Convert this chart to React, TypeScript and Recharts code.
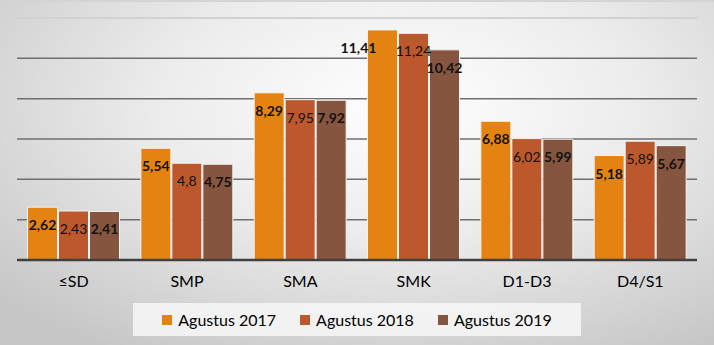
import React from "react";
import { BarChart, Bar, XAxis, YAxis, CartesianGrid, Legend, LabelList } from "recharts";

const categories = ["≤SD", "SMP", "SMA", "SMK", "D1-D3", "D4/S1"];
const agustus2017 = [2.62, 5.54, 8.29, 11.41, 6.88, 5.18];
const agustus2018 = [2.43, 4.8, 7.95, 11.24, 6.02, 5.89];
const agustus2019 = [2.41, 4.75, 7.92, 10.42, 5.99, 5.67];
const yTicks = [0, 2, 4, 6, 8, 10, 12];

const series = [
  { key: "a2017", name: "Agustus 2017", color: "#e48312", bold: true, shiftWide: true },
  { key: "a2018", name: "Agustus 2018", color: "#bc582c", bold: false, shiftWide: false },
  { key: "a2019", name: "Agustus 2019", color: "#86553f", bold: true, shiftWide: false },
];

const data = categories.map((c, i) => ({
  cat: c,
  a2017: agustus2017[i],
  a2018: agustus2018[i],
  a2019: agustus2019[i],
}));

const font = "Lato, 'Open Sans', sans-serif";
const TOP = 16;

const fmt = (v: number) => String(v).replace(".", ",");

// excel pushed the widest label of the first series off to the left
function makeLabel(bold: boolean, shiftWide: boolean) {
  return (p: any) => {
    const { x, y, width, value } = p;
    const dx = shiftWide && value >= 10 ? -24 : 0;
    return (
      <text
        x={x + width / 2 + dx}
        y={y + 23}
        textAnchor="middle"
        fontSize={14}
        fontFamily={font}
        fontWeight={bold ? 700 : 400}
        fill="#111"
      >
        {fmt(value)}
      </text>
    );
  };
}

function LegendBox() {
  return (
    <div
      style={{
        width: 448,
        height: 33,
        background: "rgba(245,245,245,0.9)",
        display: "flex",
        alignItems: "center",
        justifyContent: "center",
        gap: 24,
        fontFamily: font,
        fontSize: 16,
        color: "#000",
      }}
    >
      {series.map((s) => (
        <div key={s.key} style={{ display: "flex", alignItems: "center" }}>
          <span
            style={{ display: "inline-block", width: 10, height: 10, background: s.color, marginRight: 6 }}
          />
          <span>{s.name}</span>
        </div>
      ))}
    </div>
  );
}

export default function App() {
  return (
    <div
      style={{
        position: "absolute",
        left: 0,
        top: 0,
        width: 714,
        height: 345,
        background:
          "radial-gradient(ellipse 75% 85% at 56% 30%, #ffffff 0%, #ececec 45%, #c6c6c6 100%)",
        borderTop: "2px solid #d4d4d4",
        boxSizing: "border-box",
      }}
    >
      <BarChart
        width={714}
        height={343}
        data={data}
        margin={{ top: TOP, right: 17, left: 17, bottom: 22 }}
        barCategoryGap={10.5}
        barGap={1}
      >
        <CartesianGrid
          vertical={false}
          horizontal={(p: any) => (
            <line
              key={p.key ?? p.index}
              x1={p.x1}
              x2={p.x2}
              y1={p.y1}
              y2={p.y2}
              stroke={Math.abs(p.y1 - TOP) < 2 ? "#d2d2d2" : "#6f6f6f"}
              strokeWidth={Math.abs(p.y1 - TOP) < 2 ? 2 : 1.5}
            />
          )}
        />
        <XAxis
          dataKey="cat"
          height={30}
          axisLine={{ stroke: "#404040", strokeWidth: 2.5 }}
          tickLine={false}
          tickMargin={10}
          tick={{ fontSize: 16, fill: "#000", fontFamily: font }}
        />
        <YAxis hide domain={[0, 12]} ticks={yTicks} />
        <Legend
          content={() => <LegendBox />}
          wrapperStyle={{ left: 133, top: 301, width: 448, height: 33 }}
        />
        {series.map((s) => (
          <Bar
            key={s.key}
            dataKey={s.key}
            name={s.name}
            fill={s.color}
            stroke="#f4f4f4"
            strokeWidth={1}
            isAnimationActive={false}
          >
            <LabelList dataKey={s.key} content={makeLabel(s.bold, s.shiftWide)} />
          </Bar>
        ))}
      </BarChart>
    </div>
  );
}
